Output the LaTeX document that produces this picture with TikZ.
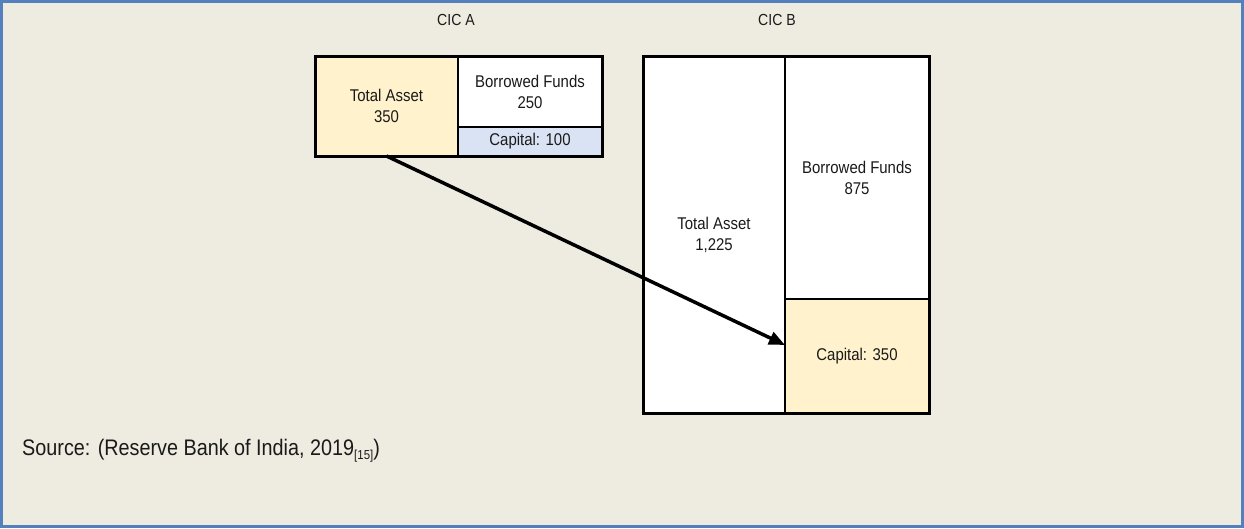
\documentclass[tikz,border=0pt]{standalone}
\usepackage{fontspec}
\setmainfont{Liberation Sans}[FakeStretch=0.88]
\usetikzlibrary{arrows.meta,positioning}
\definecolor{paper}{HTML}{EEEBE0}
\definecolor{frameblue}{HTML}{5580BE}
\definecolor{assetyellow}{HTML}{FFF2CC}
\definecolor{capblue}{HTML}{DAE3F3}
\definecolor{ink}{HTML}{1A1A1A}
\tikzset{
  cell/.style={draw=black, line width=2pt, fill=white, anchor=north west,
    inner sep=0pt, outer sep=0pt, align=center, text=ink,
    font=\fontsize{17}{21}\selectfont},
  outline/.style={draw=black, line width=3pt},
  title/.style={text=ink, font=\fontsize{16}{19}\selectfont, inner sep=0pt},
  flow/.style={line width=3.5pt, -{Triangle[length=16pt,width=13pt]}},
}
\begin{document}
\begin{tikzpicture}[x=1pt,y=-1pt]
  % page and frame
  \fill[paper] (0,0) rectangle (1244,528);
  \draw[frameblue, line width=3pt] (1.5,1.5) rectangle (1242.5,526.5);
  \useasboundingbox (0,0) rectangle (1244,528);

  % headings
  \node[title] (tA) at (456,20) {CIC A};
  \node[title] (tB) at (777,20) {CIC B};

  % balance sheet of CIC A
  \node[cell, fill=assetyellow, minimum width=143pt, minimum height=100pt] (ta) at (315,56) {Total Asset\\350};
  \node[cell, minimum width=144pt, minimum height=71pt] (bfa) at (458,56) {Borrowed Funds\\250};
  \node[cell, fill=capblue, minimum width=144pt, minimum height=29pt] (capa) at (458,127) {Capital: 100};
  \draw[outline] (ta.north west) rectangle (capa.south east);

  % balance sheet of CIC B
  \node[cell, minimum width=142pt, minimum height=357pt] (tb) at (643,56) {Total Asset\\1,225};
  \node[cell, minimum width=144pt, minimum height=243pt] (bfb) at (785,56) {Borrowed Funds\\875};
  \node[cell, fill=assetyellow, minimum width=144pt, minimum height=114pt] (capb) at (785,299) {Capital: 350};
  \draw[outline] (tb.north west) rectangle (capb.south east);

  % A's total assets become B's capital
  \draw[flow] (ta.south) -- ([yshift=11pt]capb.west);

  % source line
  \node[anchor=base west, inner sep=0pt, text=ink, font=\fontsize{22.5}{26}\selectfont] (src) at (22,455)
    {Source: (Reserve Bank of India, 2019\raisebox{-4pt}{\fontsize{13}{15}\selectfont[15]})};
\end{tikzpicture}
\end{document}
